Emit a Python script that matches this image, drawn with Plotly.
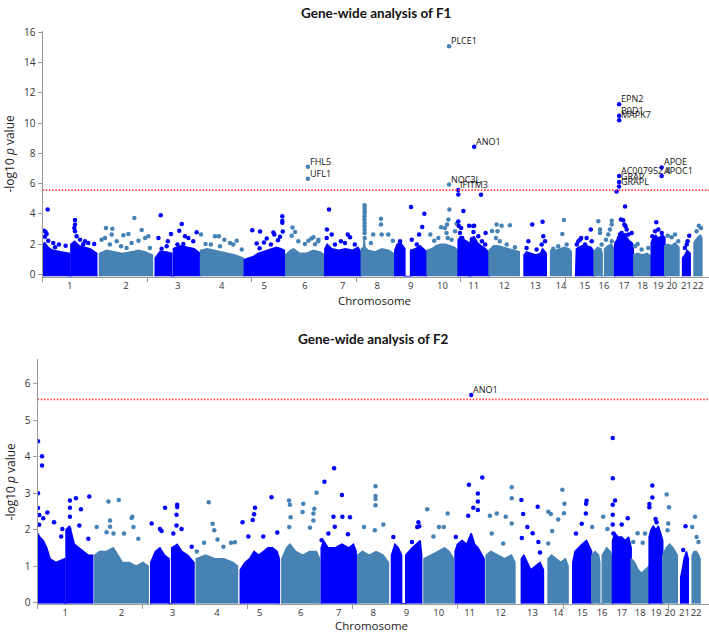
import plotly.graph_objects as go

W, H = 709, 639

CHR_NAMES = [str(i) for i in range(1, 23)]
CHR_LEN_MB = [249.25, 243.2, 198.0, 191.15, 180.9, 171.1, 159.1, 146.4, 141.2, 135.5, 135.0,
              133.9, 115.2, 107.3, 102.5, 90.35, 81.2, 78.1, 59.1, 63.0, 48.1, 51.3]
CHR_COLORS = ["#0000FF", "#4682B4"]
THRESHOLD = 5.57
TICK_STEP_MB = 457

# ---------------- F1 ----------------
# dense body of each chromosome: positions (Mb) and upper edge of the solid cloud (-log10 p)
F1_BODY_POS = [
    [0, 10, 25, 45, 80, 117, 117, 124, 124, 140, 160, 185, 210, 237],
    [0, 30, 60, 100, 140, 170, 200, 231],
    [0, 20, 45, 72, 72, 80, 80, 110, 140, 170, 196],
    [0, 30, 60, 90, 120, 150, 186],
    [0, 20, 40, 60, 80, 100, 120, 140, 160, 175],
    [0, 20, 35, 60, 90, 120, 150, 169],
    [0, 10, 30, 60, 90, 120, 145, 156],
    [0, 10, 13, 16, 30, 60, 90, 120, 140],
    [0, 10, 25, 44, 44, 69, 69, 90, 110, 125, 139],
    [0, 20, 40, 60, 80, 100, 120, 134],
    [0, 10, 25, 48, 48, 54, 54, 70, 85, 100, 120, 136],
    [0, 20, 40, 60, 90, 110, 132],
    [19, 30, 50, 70, 90, 100, 116],
    [20, 40, 60, 80, 100, 110],
    [22, 25, 35, 50, 70, 90, 102],
    [0, 15, 30, 35, 35, 46, 46, 60, 75, 87],
    [0, 5, 15, 25, 35, 45, 55, 65, 75, 81],
    [2, 20, 40, 60, 77],
    [0, 10, 20, 30, 40, 50, 60],
    [0, 15, 30, 45, 62],
    [15, 25, 35, 48],
    [17, 25, 35, 45, 51],
]
F1_BODY_TOP = [
    [2.0, 2.1, 1.8, 1.6, 1.5, 1.4, 0, 0, 2.0, 2.2, 1.9, 1.8, 1.7, 1.4],
    [1.4, 1.6, 1.5, 1.4, 1.5, 1.6, 1.5, 1.3],
    [1.1, 1.5, 1.5, 1.4, 0, 0, 1.7, 1.9, 1.8, 1.7, 1.4],
    [1.6, 1.7, 1.6, 1.5, 1.4, 1.3, 1.1],
    [1.0, 1.1, 1.2, 1.4, 1.5, 1.6, 1.7, 1.8, 1.7, 1.6],
    [1.3, 1.6, 1.7, 1.4, 1.4, 1.6, 1.5, 1.3],
    [1.7, 2.0, 1.7, 1.6, 1.7, 1.6, 1.8, 1.5],
    [1.7, 1.8, 2.4, 1.8, 1.6, 1.5, 1.7, 1.6, 1.4],
    [1.6, 2.0, 2.1, 1.7, 0, 0, 1.6, 1.7, 1.9, 1.7, 1.5],
    [1.6, 1.7, 1.9, 2.0, 2.0, 1.9, 1.8, 1.6],
    [2.3, 2.5, 2.3, 2.1, 0, 0, 2.4, 2.5, 2.1, 1.9, 1.7, 1.4],
    [1.6, 1.9, 1.9, 1.8, 1.7, 1.6, 1.5],
    [1.3, 1.5, 1.4, 1.3, 1.4, 1.7, 1.4],
    [1.6, 1.6, 1.7, 1.8, 1.7, 1.5],
    [1.3, 1.7, 1.8, 1.9, 1.9, 1.8, 1.5],
    [1.5, 1.8, 1.7, 1.4, 0, 0, 1.7, 1.9, 2.0, 1.7],
    [2.0, 2.2, 2.4, 2.5, 2.6, 2.7, 2.4, 2.2, 2.1, 1.9],
    [1.3, 1.4, 1.3, 1.4, 1.2],
    [2.1, 2.5, 2.6, 2.4, 2.5, 2.6, 2.3],
    [1.9, 2.0, 1.9, 2.1, 1.8],
    [1.1, 1.3, 1.6, 1.4],
    [2.1, 2.3, 2.5, 2.6, 2.4],
]
# individual genes standing out above the cloud
F1_PT_POS = [
    [22.6, 6.6, 13.8, 18, 11, 25, 47, 72, 101, 55, 142, 142, 139, 142, 149, 186, 200, 226, 164, 178],
    [28, 56, 53, 152, 184, 104, 126, 24, 75, 199, 213, 9, 140, 170, 45, 94, 118, 220],
    [24, 116, 69, 105, 181, 14, 55, 130, 145, 166, 97, 50, 123, 28, 86],
    [2, 63, 80, 104, 158, 22, 45, 129, 143, 85, 180],
    [35, 69, 98, 166, 166, 166, 127, 131, 156, 147, 86, 54, 67, 116, 168],
    [30, 41, 26, 55, 99, 121, 143, 84, 113, 142, 128],
    [18, 9, 30, 100, 110, 44, 70, 8, 88, 131],
    [14.6, 14.6, 14.6, 14.6, 14, 14, 14.6, 14, 14.6, 14.6, 15, 86, 86, 89, 52, 118, 138, 42],
    [71, 129, 120, 74, 106, 23, 96],
    [97, 93, 87, 78, 85, 90, 61, 129, 14, 31, 49, 107, 122],
    [0.8, 100, 23, 1, 3, 66, 13, 8, 18, 48, 70, 67, 88, 120, 104, 118],
    [33, 55, 91, 37, 30, 47, 77, 113, 13],
    [55, 100, 103, 111, 38, 30, 96, 74],
    [78, 71, 53, 90, 32],
    [88, 46, 27, 34, 41, 63, 92, 70],
    [18.5, 26, 26, 77, 77, 69, 62, 52, 77, 33],
    [8, 45, 27, 37, 42, 47, 74, 52, 30, 23, 59, 37, 15, 8, 18],
    [19, 36, 7, 65],
    [22, 17, 46, 53, 5, 31],
    [13, 45, 59, 30],
    [44, 37, 25, 33],
    [38, 47, 28],
]
F1_PT_VAL = [
    [4.29, 2.9, 2.81, 2.68, 2.5, 2.24, 2.09, 1.98, 1.91, 1.8, 3.6, 3.3, 3.08, 2.86, 2.53, 2.2, 2.09, 2.02, 2.3, 2.0],
    [3.08, 3.03, 2.64, 3.74, 2.95, 2.6, 2.68, 2.42, 2.2, 2.42, 2.53, 2.3, 2.09, 2.24, 1.98, 1.87, 1.76, 1.76],
    [3.91, 3.34, 2.68, 2.9, 2.79, 2.42, 2.2, 2.53, 2.42, 2.2, 1.98, 1.87, 2.02, 1.71, 1.65],
    [2.64, 2.53, 2.53, 2.3, 2.24, 2.02, 1.98, 2.09, 1.98, 1.87, 1.65],
    [2.92, 2.85, 2.38, 3.85, 3.55, 3.42, 2.77, 2.64, 2.49, 2.27, 2.12, 2.05, 1.73, 1.99, 2.85],
    [3.1, 2.81, 2.57, 2.2, 2.24, 2.46, 2.3, 2.02, 2.38, 2.2, 2.0],
    [4.29, 2.97, 2.64, 2.64, 2.46, 1.98, 2.2, 2.42, 2.09, 1.98],
    [4.57, 4.4, 4.2, 4.07, 3.85, 3.63, 3.4, 3.19, 2.97, 2.75, 2.42, 3.69, 3.3, 2.64, 2.64, 2.64, 2.24, 2.09],
    [4.46, 4.02, 3.14, 2.3, 2.64, 2.2, 1.98],
    [4.29, 3.63, 3.3, 3.08, 2.75, 2.42, 3.12, 3.36, 2.64, 2.24, 2.42, 2.3, 2.86],
    [5.29, 5.27, 4.2, 3.5, 3.2, 3.2, 3.08, 2.75, 2.42, 3.23, 3.23, 2.81, 2.53, 2.75, 2.2, 1.98],
    [3.3, 3.23, 3.25, 2.86, 2.42, 2.2, 1.98, 1.8, 2.88],
    [3.3, 3.49, 2.53, 2.2, 2.2, 1.76, 1.98, 1.65],
    [3.6, 2.68, 1.87, 1.98, 1.71],
    [2.97, 2.42, 1.98, 2.2, 2.3, 1.98, 2.2, 2.42],
    [3.52, 2.97, 2.75, 3.56, 3.3, 2.97, 2.64, 2.3, 2.2, 1.98],
    [5.49, 4.5, 3.63, 3.58, 3.3, 3.19, 2.75, 2.97, 2.75, 2.64, 2.64, 2.42, 2.2, 2.09, 2.42],
    [2.02, 1.65, 1.87, 1.76],
    [3.45, 2.86, 2.75, 2.42, 2.53, 2.97],
    [2.57, 2.64, 2.2, 2.46],
    [2.57, 2.2, 1.76, 1.98],
    [3.23, 3.08, 2.86],
]
# labelled genes
F1_GENE = ["PLCE1", "NOC3L", "ANO1", "IFITM3", "FHL5", "UFL1", "EPN2", "B9D1", "MAPK7",
           "AC007952.4", "GRAP", "GRAPL", "APOE", "APOC1"]
F1_GENE_CHR = [10, 10, 11, 11, 6, 6, 17, 17, 17, 17, 17, 17, 19, 19]
F1_GENE_POS = [95.8, 96.1, 70.0, 0.3, 97.0, 96.9, 19.1, 19.2, 19.3, 19.0, 18.9, 18.7, 45.4, 45.4]
F1_GENE_VAL = [15.06, 5.94, 8.43, 5.58, 7.11, 6.33, 11.24, 10.48, 10.18, 6.50, 6.11, 5.81, 7.07, 6.50]

# ---------------- F2 ----------------
F2_BODY_POS = [
    [0, 10, 25, 40, 55, 80, 117, 117, 124, 124, 140, 160, 180, 200, 220, 240],
    [0, 20, 50, 80, 100, 120, 150, 180, 210, 232],
    [0, 20, 40, 60, 80, 80, 91, 91, 115, 135, 160, 188],
    [0, 40, 80, 120, 160, 179],
    [0, 20, 40, 60, 80, 100, 120, 140, 160, 170],
    [0, 20, 35, 60, 90, 120, 150, 164],
    [0, 10, 30, 60, 90, 120, 140, 152],
    [0, 20, 50, 80, 110, 133],
    [0, 15, 30, 44, 44, 62, 62, 90, 110, 125, 131],
    [0, 30, 60, 90, 110, 128],
    [0, 10, 30, 50, 70, 85, 100, 126],
    [0, 20, 50, 80, 110, 125],
    [19, 30, 45, 60, 80, 100, 115],
    [20, 35, 55, 75, 95, 107],
    [20, 30, 45, 60, 80, 102],
    [0, 15, 30, 35, 35, 46, 46, 65, 80, 90],
    [0, 10, 25, 40, 55, 70, 81],
    [0, 15, 30, 45, 60, 78],
    [0, 8, 18, 30, 40, 50, 59],
    [0, 15, 30, 45, 63],
    [15, 22, 30, 40, 48],
    [17, 25, 35, 45, 51],
]
F2_BODY_TOP = [
    [1.9, 1.8, 1.7, 1.5, 1.2, 1.1, 1.2, 0, 0, 2.0, 2.1, 1.6, 1.5, 1.4, 1.3, 1.3],
    [1.3, 1.4, 1.4, 1.5, 1.3, 1.1, 1.1, 1.0, 1.1, 1.0],
    [1.1, 1.4, 1.5, 1.3, 1.2, 0, 0, 1.5, 1.6, 1.4, 1.3, 1.1],
    [1.2, 1.3, 1.2, 1.2, 1.1, 1.0],
    [0.9, 1.1, 1.2, 1.4, 1.3, 1.4, 1.5, 1.5, 1.4, 1.2],
    [1.2, 1.5, 1.6, 1.4, 1.3, 1.4, 1.4, 1.2],
    [1.5, 1.7, 1.5, 1.5, 1.6, 1.5, 1.6, 1.4],
    [1.3, 1.4, 1.3, 1.4, 1.3, 1.1],
    [1.3, 1.6, 1.5, 1.3, 0, 0, 1.3, 1.5, 1.6, 1.7, 1.3],
    [1.2, 1.3, 1.4, 1.5, 1.4, 1.2],
    [1.4, 1.6, 1.7, 1.6, 1.9, 1.6, 1.5, 1.2],
    [1.3, 1.4, 1.3, 1.2, 1.3, 1.1],
    [1.2, 1.3, 1.1, 0.9, 1.0, 1.1, 0.9],
    [1.2, 1.3, 1.2, 1.1, 1.2, 1.0],
    [1.1, 1.4, 1.5, 1.6, 1.7, 1.4],
    [1.3, 1.4, 1.3, 1.1, 0, 0, 1.3, 1.5, 1.4, 1.2],
    [1.7, 1.9, 1.8, 1.8, 1.7, 1.8, 1.5],
    [1.2, 1.1, 0.9, 0.8, 0.9, 1.0],
    [1.8, 2.0, 2.1, 2.0, 2.1, 1.9, 1.7],
    [1.3, 1.5, 1.6, 1.5, 1.3],
    [0.7, 0.9, 1.2, 1.4, 1.2],
    [1.3, 1.4, 1.4, 1.3, 1.2],
]
F2_PT_POS = [
    [2, 19.6, 19.6, 2, 2, 8, 7, 43, 25, 72, 108, 103, 141, 167, 225, 141, 189, 141, 182, 221, 138],
    [59, 104, 66, 160, 163, 8, 51, 127, 168, 189, 81, 66],
    [62, 115, 115, 112, 4, 40, 47, 112, 134, 98, 178],
    [54, 71, 78, 34, 92, 151, 168, 2, 118],
    [10, 64, 60, 54, 136, 100, 161, 35],
    [31, 35, 38, 93, 90, 137, 137, 151, 141, 122, 32],
    [56, 14, 90, 53, 92, 125, 59, 2, 31, 116],
    [77, 77, 77, 77, 27, 74, 111],
    [117, 121, 112, 8, 89],
    [14, 103, 65, 41, 86],
    [60, 118, 99, 99, 79, 99, 57, 3],
    [111, 111, 16, 46, 85, 111, 24, 74],
    [19, 27, 90, 45, 68, 21, 93, 100],
    [82, 91, 21, 32, 89, 64, 38, 21],
    [80, 78, 77, 59, 34],
    [50, 2, 68],
    [1, 1, 11, 1, 1, 1, 66, 40, 4],
    [28, 9, 60, 50],
    [14, 14, 1, 1, 28, 32],
    [17, 27, 24, 21],
    [36, 26],
    [29, 17, 36, 44],
]
F2_PT_VAL = [
    [4.42, 4.01, 3.76, 3.0, 2.59, 2.4, 2.13, 2.47, 2.31, 2.2, 2.02, 1.81, 2.8, 2.86, 2.91, 2.6, 2.56, 2.35, 2.11, 1.75, 2.02],
    [2.77, 2.81, 2.25, 2.32, 2.35, 2.07, 1.93, 1.89, 2.07, 1.75, 1.89, 2.08],
    [2.6, 2.68, 2.62, 2.41, 2.17, 2.02, 1.96, 2.11, 2.02, 1.89, 1.53],
    [2.75, 2.16, 1.98, 1.64, 1.73, 1.64, 1.65, 1.4, 1.53],
    [2.2, 2.6, 2.42, 2.26, 2.89, 1.81, 1.92, 1.81],
    [2.8, 2.68, 2.34, 2.71, 2.48, 2.44, 2.25, 3.01, 2.57, 2.05, 2.07],
    [3.68, 3.31, 2.95, 2.35, 2.35, 2.34, 2.08, 1.71, 1.89, 1.87],
    [3.19, 2.92, 2.84, 2.67, 2.07, 1.98, 2.14],
    [2.2, 2.09, 2.07, 1.8, 1.66],
    [2.56, 2.44, 2.07, 1.81, 2.07],
    [3.23, 3.43, 2.99, 2.77, 2.6, 2.54, 2.38, 1.8],
    [3.16, 2.86, 2.38, 2.44, 2.35, 2.17, 1.89, 1.62],
    [2.81, 2.43, 2.63, 2.07, 1.9, 1.77, 1.66, 1.37],
    [3.09, 2.71, 2.49, 2.43, 2.45, 2.28, 1.96, 1.62],
    [2.79, 2.71, 2.44, 2.16, 1.89],
    [2.35, 2.07, 2.02],
    [4.51, 3.41, 2.8, 2.68, 2.41, 2.14, 2.31, 2.14, 1.89],
    [1.9, 1.66, 1.89, 1.64],
    [3.21, 2.88, 2.7, 2.61, 2.29, 2.2],
    [2.96, 2.61, 2.17, 1.98],
    [2.09, 1.44],
    [2.35, 2.07, 1.8, 1.66],
]
F2_GENE = ["ANO1"]
F2_GENE_CHR = [11]
F2_GENE_POS = [70.0]
F2_GENE_VAL = [5.69]

# ---------------- layout geometry (pixels) ----------------
TOP = dict(x0_px=42.5, px_per_mb=0.2289, y_bottom_px=275.3, y_top_px=25.0, yrange=[-0.13, 16.1],
           dtick=2, title_px=7, xtitle_px=300)
BOT = dict(x0_px=37.5, px_per_mb=0.2300, y_bottom_px=608.1, y_top_px=359.5, yrange=[-0.03, 6.67],
           dtick=1, title_px=339, xtitle_px=630)

offsets = []
acc = 0.0
for L in CHR_LEN_MB:
    offsets.append(acc)
    acc += L

FONT = "Open Sans, Liberation Sans, sans-serif"
fig = go.Figure()


def add_panel(n, geo, body_pos, body_top, pt_pos, pt_val, genes, g_chr, g_pos, g_val, title):
    xa = "x" if n == 1 else "x%d" % n
    ya = "y" if n == 1 else "y%d" % n
    base = geo["yrange"][0]
    centers = []
    for c in range(22):
        col = CHR_COLORS[c % 2]
        xs = [offsets[c] + p for p in body_pos[c]]
        ys = [t if t > 0 else base for t in body_top[c]]
        fig.add_trace(go.Scatter(
            x=[xs[0]] + xs + [xs[-1]], y=[base] + ys + [base],
            mode="lines", fill="toself", fillcolor=col, line=dict(width=1.5, color=col),
            hoverinfo="skip", showlegend=False, xaxis=xa, yaxis=ya))
        centers.append(offsets[c] + (min(body_pos[c]) + max(body_pos[c])) / 2)
    px, py, pc = [], [], []
    for c in range(22):
        for p, v in zip(pt_pos[c], pt_val[c]):
            px.append(offsets[c] + p)
            py.append(v)
            pc.append(CHR_COLORS[c % 2])
    for ch, p, v in zip(g_chr, g_pos, g_val):
        px.append(offsets[ch - 1] + p)
        py.append(v)
        pc.append(CHR_COLORS[(ch - 1) % 2])
    fig.add_trace(go.Scatter(x=px, y=py, mode="markers",
                             marker=dict(size=4.5, color=pc, line=dict(width=0)),
                             showlegend=False, xaxis=xa, yaxis=ya))
    for name, ch, p, v in zip(genes, g_chr, g_pos, g_val):
        fig.add_annotation(x=offsets[ch - 1] + p, y=v, xref=xa, yref=ya, text=name,
                           showarrow=False, xanchor="left", yanchor="bottom",
                           xshift=0, yshift=-3, font=dict(family=FONT, size=9, color="#111"))
    xmax = (W - geo["x0_px"]) / geo["px_per_mb"]
    fig.add_shape(type="line", xref=xa, yref=ya, x0=0, x1=xmax, y0=THRESHOLD, y1=THRESHOLD,
                  line=dict(color="rgb(255,70,70)", width=1.6, dash="1.6px,1.6px"))
    xdom = [geo["x0_px"] / W, 1.0]
    ydom = [(H - geo["y_bottom_px"]) / H, (H - geo["y_top_px"]) / H]
    axis_key = "xaxis" if n == 1 else "xaxis%d" % n
    yaxis_key = "yaxis" if n == 1 else "yaxis%d" % n
    fig.update_layout(**{
        axis_key: dict(domain=xdom, range=[0, xmax], tickvals=centers, ticktext=CHR_NAMES,
                       tickangle=0, ticks="", showline=True, linecolor="#9a9a9a", linewidth=1,
                       showgrid=False, zeroline=False, anchor=ya,
                       tickfont=dict(family=FONT, size=9.5, color="#333")),
        yaxis_key: dict(domain=ydom, range=geo["yrange"], dtick=geo["dtick"], tick0=0,
                        ticks="outside", ticklen=4, tickcolor="#9a9a9a",
                        showline=True, linecolor="#9a9a9a", linewidth=1,
                        showgrid=False, zeroline=False, anchor=xa,
                        tickfont=dict(family=FONT, size=10, color="#333")),
    })
    # regular tick marks along the genome axis
    tick_key = "xaxis%d" % (n + 2)
    fig.update_layout(**{
        tick_key: dict(domain=xdom, range=[0, xmax], overlaying=xa, anchor=ya,
                       tick0=0, dtick=TICK_STEP_MB, ticks="outside", ticklen=4,
                       tickcolor="#9a9a9a", showticklabels=False, showline=False,
                       showgrid=False, zeroline=False)})
    fig.add_trace(go.Scatter(x=[None], y=[None], xaxis="x%d" % (n + 2), yaxis=ya,
                             showlegend=False, hoverinfo="skip"))
    # titles
    ytop = (H - geo["y_top_px"]) / H
    ybot = (H - geo["y_bottom_px"]) / H
    xmid = (geo["x0_px"] + W) / 2 / W
    fig.add_annotation(x=xmid, y=(H - geo["title_px"]) / H, xref="paper", yref="paper",
                       text="<b>%s</b>" % title, showarrow=False, xanchor="center", yanchor="middle",
                       font=dict(family="Lato, Open Sans, sans-serif", size=13.5, color="#111"))
    fig.add_annotation(x=10 / W, y=(ytop + ybot) / 2, xref="paper", yref="paper",
                       text="-log10 <i>p</i> value", textangle=-90, showarrow=False,
                       xanchor="center", yanchor="middle",
                       font=dict(family=FONT, size=12, color="#222"))
    fig.add_annotation(x=xmid - 0.002, y=(H - geo["xtitle_px"]) / H, xref="paper", yref="paper",
                       text="Chromosome", showarrow=False, xanchor="center", yanchor="middle",
                       font=dict(family=FONT, size=11.5, color="#222"))


add_panel(1, TOP, F1_BODY_POS, F1_BODY_TOP, F1_PT_POS, F1_PT_VAL,
          F1_GENE, F1_GENE_CHR, F1_GENE_POS, F1_GENE_VAL, "Gene-wide analysis of F1")
add_panel(2, BOT, F2_BODY_POS, F2_BODY_TOP, F2_PT_POS, F2_PT_VAL,
          F2_GENE, F2_GENE_CHR, F2_GENE_POS, F2_GENE_VAL, "Gene-wide analysis of F2")

fig.update_layout(width=W, height=H, margin=dict(l=0, r=0, t=0, b=0), hovermode=False,
                  plot_bgcolor="white", paper_bgcolor="white", showlegend=False)

# remove the browser's default page margin so the figure sits at the window origin
fig.write_html("out.html", config={"displayModeBar": False, "staticPlot": True},
               post_script="document.body.style.margin='0';document.body.style.overflow='hidden';")
